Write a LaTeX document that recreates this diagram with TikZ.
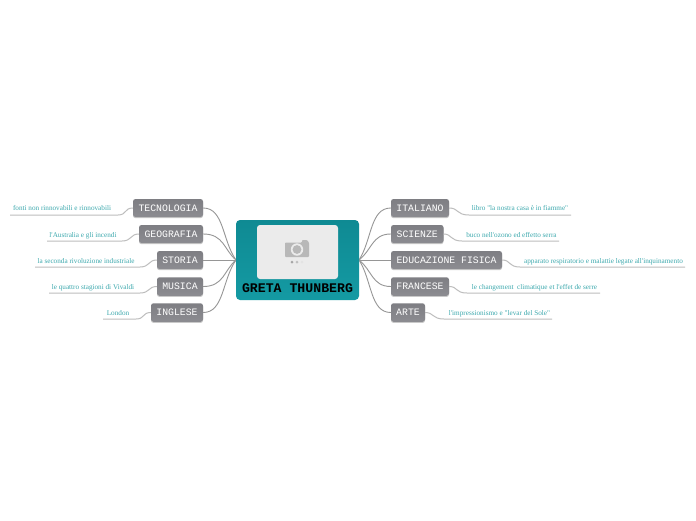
\documentclass[tikz,border=0pt]{standalone}
\usepackage{fontspec}
\setmainfont{Liberation Serif}
\setmonofont{Liberation Mono}
\newfontfamily\leaffont{Liberation Serif}
\usetikzlibrary{shadows}
\definecolor{boxt}{HTML}{7E7E83}
\definecolor{boxb}{HTML}{8C8C91}
\definecolor{tealt}{HTML}{3DA9AE}
\definecolor{tealtop}{HTML}{0F8A93}
\definecolor{tealbot}{HTML}{149AA3}
\definecolor{linec}{HTML}{969696}
\definecolor{leafl}{HTML}{BDBDBD}
\tikzset{
 x=1pt,y=-1pt,
 topic/.style={draw=none,rounded corners=2.5pt,top color=boxt,bottom color=boxb,
   drop shadow={shadow xshift=0pt,shadow yshift=-1.2pt,fill=black!35,opacity=.6},
   text=white,font=\ttfamily\fontsize{9.8}{10}\selectfont,inner sep=0pt},
 leaf/.style={text=tealt,font=\leaffont\fontsize{7.2}{8}\selectfont,inner sep=0pt,anchor=base},
 conn/.style={draw=linec,line width=.9pt},
 lconn/.style={draw=leafl,line width=1pt}
}
\begin{document}
\begin{tikzpicture}
\useasboundingbox (0,0) rectangle (696,520);
\fill[white] (0,0) rectangle (696,520);

% topics
\node[topic,minimum width=70pt,minimum height=18pt] (tec) at (168,208) {TECNOLOGIA};
\node[topic,minimum width=64pt,minimum height=18pt] (geo) at (171,234) {GEOGRAFIA};
\node[topic,minimum width=46pt,minimum height=18pt] (sto) at (180,260) {STORIA};
\node[topic,minimum width=46pt,minimum height=18.5pt] (mus) at (180,286.5) {MUSICA};
\node[topic,minimum width=52pt,minimum height=18.5pt] (ing) at (177,312.5) {INGLESE};
\node[topic,minimum width=58pt,minimum height=18pt] (ita) at (420,208) {ITALIANO};
\node[topic,minimum width=52.5pt,minimum height=18pt] (sci) at (417.25,234) {SCIENZE};
\node[topic,minimum width=111pt,minimum height=18pt] (edu) at (446.5,260) {EDUCAZIONE FISICA};
\node[topic,minimum width=58pt,minimum height=18.5pt] (fra) at (420,286.5) {FRANCESE};
\node[topic,minimum width=34pt,minimum height=18.5pt] (art) at (408,312.5) {ARTE};

% connectors centre to topics
\coordinate (cl) at (236,260);
\coordinate (cr) at (359,260);
\draw[conn] (tec.east) .. controls (224,208) and (222,240) .. (cl);
\draw[conn] (geo.east) .. controls (224,234) and (224,250) .. (cl);
\draw[conn] (sto.east) -- (cl);
\draw[conn] (mus.east) .. controls (224,286.5) and (224,270) .. (cl);
\draw[conn] (ing.east) .. controls (224,312.5) and (222,280) .. (cl);
\draw[conn] (cr) .. controls (372,240) and (370,208) .. (ita.west);
\draw[conn] (cr) .. controls (372,250) and (372,234) .. (sci.west);
\draw[conn] (cr) -- (edu.west);
\draw[conn] (cr) .. controls (372,270) and (372,286.5) .. (fra.west);
\draw[conn] (cr) .. controls (372,280) and (370,312.5) .. (art.west);

% centre
\node[draw=none,rounded corners=4pt,top color=tealtop,bottom color=tealbot,
  minimum width=123pt,minimum height=80pt,inner sep=0pt] (center) at (297.5,260) {};
\node[rounded corners=3pt,fill=black!8,minimum width=81pt,minimum height=54pt,inner sep=0pt] (photo) at (297.5,252) {};
\node[font=\ttfamily\bfseries\fontsize{13.2}{14}\selectfont,text=black,inner sep=0pt] (title) at (297.5,288) {GRETA THUNBERG};
% camera icon
\fill[black!28,rounded corners=.8pt] (285,242.5) -- (302,242.5) -- (302,240) -- (307,240) -- (309,242.5) -- (309,257) -- (285,257) -- cycle;
\fill[black!8] (297,249.5) circle (6.2);
\fill[black!28] (297,249.5) circle (4.4);
\fill[black!35] (292,262) circle (1.5);
\fill[black!25] (297,262) circle (1.5);
\fill[black!11] (302,262) circle (1.5);

% leaf lines
\coordinate (a1) at (118,215); \coordinate (b1) at (10,215);
\coordinate (a2) at (122,241); \coordinate (b2) at (47,241);
\coordinate (a3) at (140,267); \coordinate (b3) at (35,267);
\coordinate (a4) at (140,293); \coordinate (b4) at (49,293);
\coordinate (a5) at (136,319); \coordinate (b5) at (103,319);
\coordinate (a6) at (469,215); \coordinate (b6) at (571,215);
\coordinate (a7) at (462,241); \coordinate (b7) at (559,241);
\coordinate (a8) at (520,267); \coordinate (b8) at (685,267);
\coordinate (a9) at (467,293); \coordinate (b9) at (600,293);
\coordinate (a10) at (444,319); \coordinate (b10) at (552,319);
\draw[lconn] (tec.west) .. controls (124,208) and (127,215) .. (a1) -- (b1);
\draw[lconn] (geo.west) .. controls (130,234) and (132,241) .. (a2) -- (b2);
\draw[lconn] (sto.west) .. controls (148,260) and (150,267) .. (a3) -- (b3);
\draw[lconn] (mus.west) .. controls (148,286.5) and (150,293) .. (a4) -- (b4);
\draw[lconn] (ing.west) .. controls (142,312.5) and (145,319) .. (a5) -- (b5);
\draw[lconn] (ita.east) .. controls (459,208) and (456,215) .. (a6) -- (b6);
\draw[lconn] (sci.east) .. controls (452,234) and (450,241) .. (a7) -- (b7);
\draw[lconn] (edu.east) .. controls (511,260) and (508,267) .. (a8) -- (b8);
\draw[lconn] (fra.east) .. controls (458,286.5) and (455,293) .. (a9) -- (b9);
\draw[lconn] (art.east) .. controls (434,312.5) and (432,319) .. (a10) -- (b10);

% leaf texts
\node[leaf] (t1) at (62,210.5) {fonti non rinnovabili e rinnovabili};
\node[leaf] (t2) at (83,237) {l'Australia e gli incendi};
\node[leaf] (t3) at (86,263) {la seconda rivoluzione industriale};
\node[leaf] (t4) at (93,289) {le quattro stagioni di Vivaldi};
\node[leaf] (t5) at (118,315) {London};
\node[leaf] (t6) at (520,210.5) {libro "la nostra casa è in fiamme"};
\node[leaf] (t7) at (511.5,237) {buco nell'ozono ed effetto serra};
\node[leaf] (t8) at (603.5,263) {apparato respiratorio e malattie legate all'inquinamento};
\node[leaf] (t9) at (534.5,289) {le changement \ climatique et l'effet de serre};
\node[leaf] (t10) at (499.5,315.5) {l'impressionismo e "levar del Sole"};
\end{tikzpicture}
\end{document}
